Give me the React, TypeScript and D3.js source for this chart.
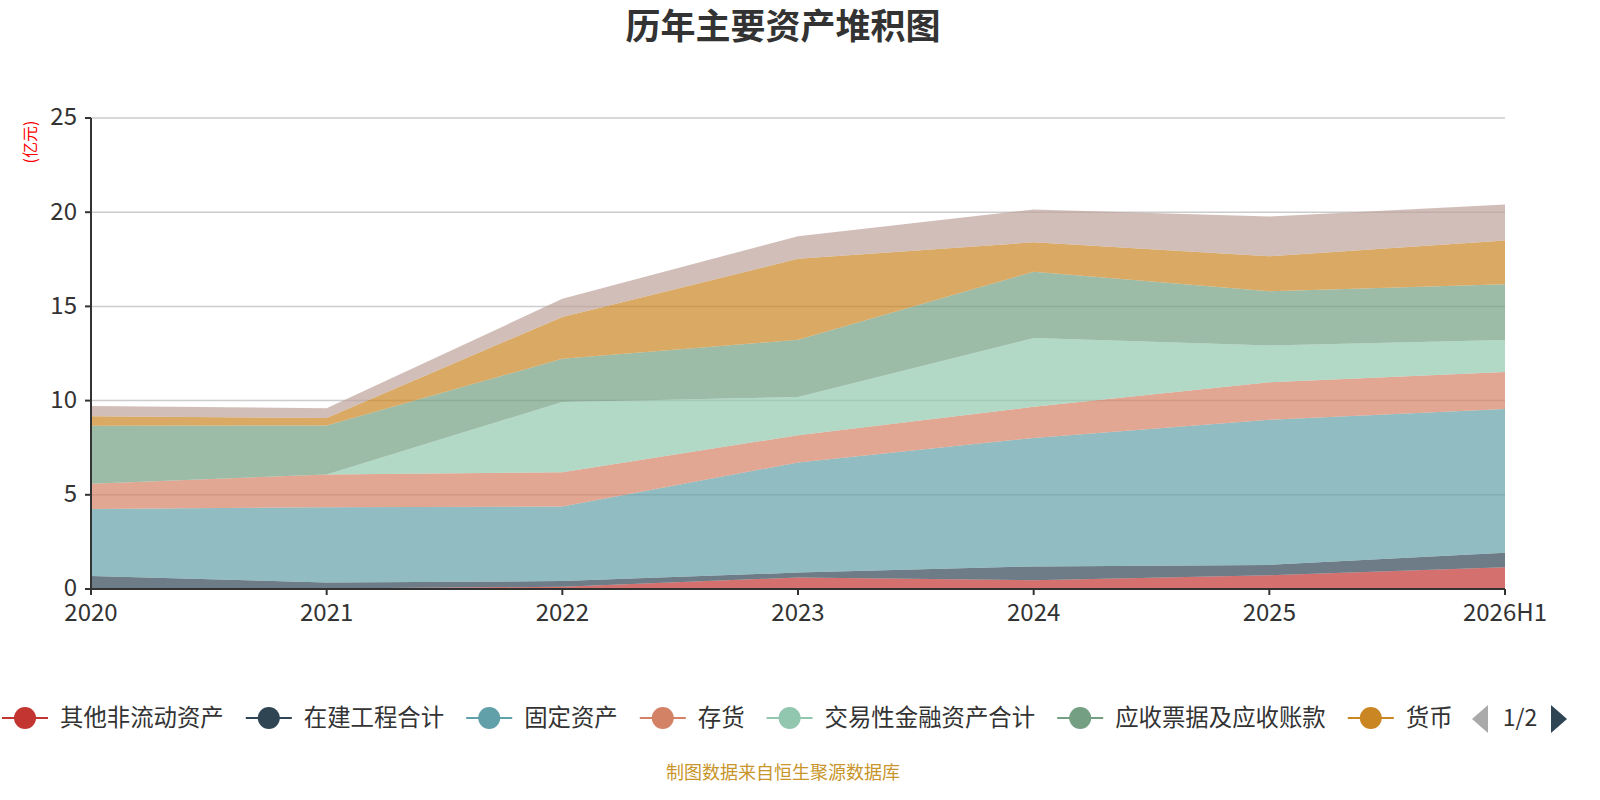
import React from 'react';
import * as d3 from 'd3';

const categories = ['2020', '2021', '2022', '2023', '2024', '2025', '2026H1'];

const seriesNames = [
  '其他非流动资产',
  '在建工程合计',
  '固定资产',
  '存货',
  '交易性金融资产合计',
  '应收票据及应收账款',
  '货币',
  '其他流动资产',
];

const seriesColors = ['#c23531', '#2f4554', '#61a0a8', '#d48265', '#91c7ae', '#749f83', '#ca8622', '#bda29a'];

// values in 亿元
const otherNonCurrent = [0, 0.03, 0.12, 0.61, 0.47, 0.73, 1.15];
const construction = [0.69, 0.32, 0.30, 0.26, 0.73, 0.55, 0.78];
const fixedAssets = [3.56, 3.99, 3.96, 5.85, 6.82, 7.70, 7.63];
const inventory = [1.34, 1.74, 1.82, 1.44, 1.65, 1.99, 1.96];
const tradingAssets = [0, 0, 3.73, 2.03, 3.65, 1.96, 1.69];
const receivables = [3.07, 2.60, 2.29, 3.04, 3.52, 2.87, 2.97];
const cash = [0.51, 0.40, 2.22, 4.30, 1.56, 1.86, 2.32];
const otherCurrent = [0.55, 0.52, 0.96, 1.20, 1.74, 2.11, 1.91];

const seriesValues = [otherNonCurrent, construction, fixedAssets, inventory, tradingAssets, receivables, cash, otherCurrent];

const yTicks = [0, 5, 10, 15, 20, 25];

const legendCount = 7; // page 1 of legend

const font = '"Noto Sans CJK SC", "Noto Sans", sans-serif';

const App: React.FC = () => {
  const width = 1600;
  const height = 800;
  const margin = { left: 91, right: 95, top: 118, bottom: 211 };
  const innerH = height - margin.top - margin.bottom;

  const x = d3.scalePoint<string>().domain(categories).range([margin.left, width - margin.right]);
  const y = d3.scaleLinear().domain([0, 25]).range([margin.top + innerH, margin.top]);

  const rows = categories.map((c, i) => {
    const row: Record<string, number | string> = { cat: c };
    seriesNames.forEach((n, k) => { row[n] = seriesValues[k][i]; });
    return row;
  });

  const stack = d3.stack<Record<string, number | string>>().keys(seriesNames);
  const layers = stack(rows);

  const area = d3.area<d3.SeriesPoint<Record<string, number | string>>>()
    .x(d => x(d.data.cat as string) as number)
    .y0(d => y(d[0]))
    .y1(d => y(d[1]));

  // legend layout
  const legendY = 718;
  const charW = 23.4;
  const items: { name: string; color: string; x: number }[] = [];
  let cursor = 2;
  for (let i = 0; i < legendCount; i++) {
    items.push({ name: seriesNames[i], color: seriesColors[i], x: cursor });
    cursor += 46 + 12 + seriesNames[i].length * charW + 22;
  }

  const axisY = y(0);

  return (
    <svg width={width} height={height} style={{ position: 'absolute', left: 0, top: 0, fontFamily: font }}>
      <rect width={width} height={height} fill="#fff" />
      <text x={783} y={39} textAnchor="middle" fontSize={35} fontWeight="bold" fill="#333">历年主要资产堆积图</text>

      <text transform={`translate(36,142) rotate(-90)`} textAnchor="middle" fontSize={16} fill="#ff0000">(亿元)</text>

      {yTicks.filter(t => t > 0).map(t => (
        <line key={t} x1={margin.left} x2={width - margin.right} y1={y(t)} y2={y(t)} stroke="#ccc" strokeWidth={1.5} />
      ))}

      {layers.map((layer, k) => (
        <path key={seriesNames[k]} d={area(layer) || ''} fill={seriesColors[k]} fillOpacity={0.7} stroke="none" />
      ))}

      {/* y axis */}
      <line x1={margin.left} x2={margin.left} y1={margin.top} y2={axisY} stroke="#333" strokeWidth={2} />
      {yTicks.map(t => (
        <g key={t}>
          <line x1={margin.left - 6} x2={margin.left} y1={y(t)} y2={y(t)} stroke="#333" strokeWidth={2} />
          <text x={margin.left - 14} y={y(t) - 1} dy="0.35em" textAnchor="end" fontSize={24} fill="#333">{t}</text>
        </g>
      ))}

      {/* x axis */}
      <line x1={margin.left} x2={width - margin.right} y1={axisY} y2={axisY} stroke="#333" strokeWidth={2} />
      {categories.map(c => (
        <g key={c}>
          <line x1={x(c)} x2={x(c)} y1={axisY} y2={axisY + 6} stroke="#333" strokeWidth={2} />
          <text x={x(c)} y={axisY + 32} textAnchor="middle" fontSize={24} fill="#333">{c}</text>
        </g>
      ))}

      {/* legend */}
      {items.map(it => (
        <g key={it.name}>
          <line x1={it.x} x2={it.x + 46} y1={legendY} y2={legendY} stroke={it.color} strokeWidth={2} />
          <circle cx={it.x + 23} cy={legendY} r={11} fill={it.color} />
          <text x={it.x + 58} y={legendY} dy="0.35em" fontSize={23.4} fill="#333">{it.name}</text>
        </g>
      ))}
      <path d={`M1488,705 L1472,719 L1488,733 Z`} fill="#aaa" />
      <text x={1520} y={718} dy="0.35em" textAnchor="middle" fontSize={23} fill="#333">1/2</text>
      <path d={`M1551,705 L1567,719 L1551,733 Z`} fill="#2f4554" />

      <text x={783} y={779} textAnchor="middle" fontSize={18} fill="#c8952b">制图数据来自恒生聚源数据库</text>
    </svg>
  );
};

export default App;
